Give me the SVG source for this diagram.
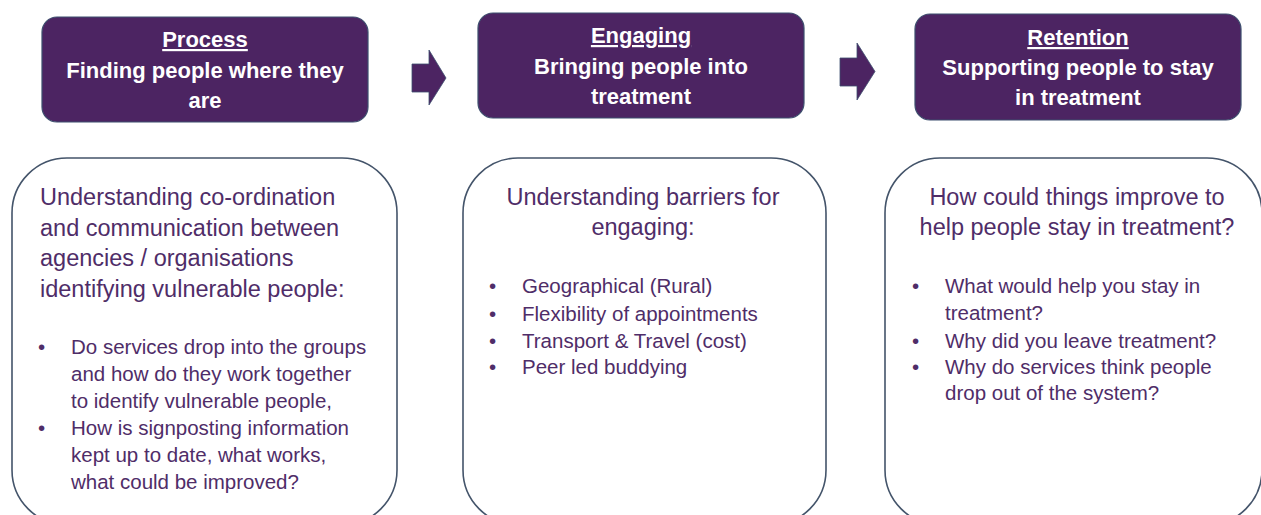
<svg xmlns="http://www.w3.org/2000/svg" width="1261" height="515" viewBox="0 0 1261 515">
  <style>
    .stage { fill: #4c2462; stroke: #3d4f6e; stroke-width: 1.2; }
    .stage-text { font-family: "Liberation Sans", Arial, sans-serif; font-weight: bold; font-size: 22px; fill: #ffffff; text-anchor: middle; }
    .panel { fill: #ffffff; stroke: #44546a; stroke-width: 1.6; }
    .title { font-family: "Liberation Sans", Arial, sans-serif; font-size: 23.5px; fill: #4f2d68; }
    .item { font-family: "Liberation Sans", Arial, sans-serif; font-size: 20.5px; fill: #4f2d68; }
    .arrow { fill: #4c2462; stroke: #3d4f6e; stroke-width: 0.8; }
  </style>
  <rect width="1261" height="515" fill="#ffffff"/>

  <!-- stage headers -->
  <g id="stage-process">
    <rect class="stage" x="42" y="17" width="326" height="105" rx="15"/>
    <text class="stage-text" x="205" y="47" text-decoration="underline">Process</text>
    <text class="stage-text" x="205" y="78">Finding people where they</text>
    <text class="stage-text" x="205" y="108">are</text>
  </g>
  <g id="stage-engaging">
    <rect class="stage" x="478" y="13" width="326" height="105" rx="15"/>
    <text class="stage-text" x="641" y="43" text-decoration="underline">Engaging</text>
    <text class="stage-text" x="641" y="74">Bringing people into</text>
    <text class="stage-text" x="641" y="104">treatment</text>
  </g>
  <g id="stage-retention">
    <rect class="stage" x="915" y="14" width="326" height="106" rx="15"/>
    <text class="stage-text" x="1078" y="45" text-decoration="underline">Retention</text>
    <text class="stage-text" x="1078" y="75">Supporting people to stay</text>
    <text class="stage-text" x="1078" y="105">in treatment</text>
  </g>

  <!-- block arrows between stages -->
  <g id="connectors">
    <polygon class="arrow" points="412,64 429,64 429,50 446,78 429,105 429,92 412,92"/>
    <polygon class="arrow" points="840,58 857,58 857,43 875,71.5 857,100 857,86 840,86"/>
  </g>

  <!-- question panels -->
  <g id="panel-process">
    <rect class="panel" x="12" y="158" width="385" height="367" rx="55"/>
    <text class="title" x="40" y="205">Understanding co-ordination</text>
    <text class="title" x="40" y="236">and communication between</text>
    <text class="title" x="40" y="266">agencies / organisations</text>
    <text class="title" x="40" y="297">identifying vulnerable people:</text>
    <text class="item" x="38" y="354">•</text>
    <text class="item" x="71" y="354">Do services drop into the groups</text>
    <text class="item" x="71" y="381">and how do they work together</text>
    <text class="item" x="71" y="408">to identify vulnerable people,</text>
    <text class="item" x="38" y="435">•</text>
    <text class="item" x="71" y="435">How is signposting information</text>
    <text class="item" x="71" y="462">kept up to date, what works,</text>
    <text class="item" x="71" y="489">what could be improved?</text>
  </g>
  <g id="panel-engaging">
    <rect class="panel" x="463" y="158" width="363" height="367" rx="55"/>
    <text class="title" x="643" y="205" text-anchor="middle">Understanding barriers for</text>
    <text class="title" x="643" y="235" text-anchor="middle">engaging:</text>
    <text class="item" x="489" y="293">•</text>
    <text class="item" x="522" y="293">Geographical (Rural)</text>
    <text class="item" x="489" y="321">•</text>
    <text class="item" x="522" y="321">Flexibility of appointments</text>
    <text class="item" x="489" y="348">•</text>
    <text class="item" x="522" y="348">Transport &amp; Travel (cost)</text>
    <text class="item" x="489" y="374">•</text>
    <text class="item" x="522" y="374">Peer led buddying</text>
  </g>
  <g id="panel-retention">
    <rect class="panel" x="885" y="158" width="377" height="367" rx="55"/>
    <text class="title" x="1077" y="205" text-anchor="middle">How could things improve to</text>
    <text class="title" x="1077" y="235" text-anchor="middle">help people stay in treatment?</text>
    <text class="item" x="912" y="293">•</text>
    <text class="item" x="945" y="293">What would help you stay in</text>
    <text class="item" x="945" y="320">treatment?</text>
    <text class="item" x="912" y="348">•</text>
    <text class="item" x="945" y="348">Why did you leave treatment?</text>
    <text class="item" x="912" y="374">•</text>
    <text class="item" x="945" y="374">Why do services think people</text>
    <text class="item" x="945" y="400">drop out of the system?</text>
  </g>
</svg>
